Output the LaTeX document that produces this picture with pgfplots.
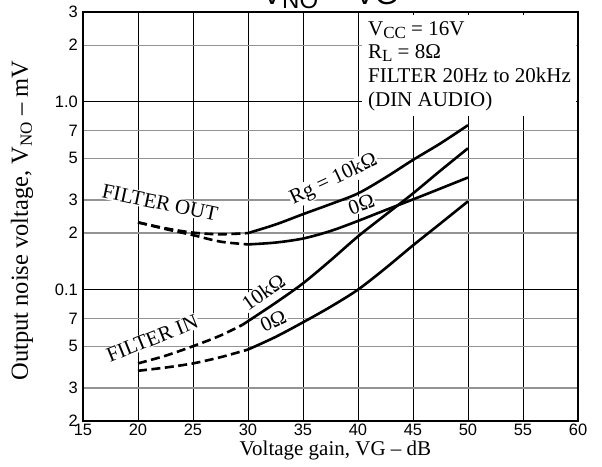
\documentclass[border=0pt]{standalone}
\usepackage{fontspec}
\setmainfont{Liberation Serif}
\newfontfamily\ticksf{Liberation Sans}
\usepackage{pgfplots}
\pgfplotsset{compat=1.18}
\usetikzlibrary{calc}

% subscripts as in the data sheet (big, lowered)
\newcommand{\sub}[1]{\raisebox{-0.35ex}{\fontsize{17}{17}\selectfont #1}}
\newcommand{\lab}{\fontsize{21}{24}\selectfont}

\begin{document}
\begin{tikzpicture}
\begin{axis}[
    scale only axis,
    width=495pt, height=409pt,
    xmin=15, xmax=60,
    ymode=log, ymin=0.02, ymax=3,
    xtick={15,20,...,60},
    xticklabels={15,20,25,30,35,40,45,50,55,60},
    ytick={0.02,0.03,0.05,0.07,0.2,0.3,0.5,0.7,2,3},
    yticklabels={2,3,5,7,2,3,5,7,2,3},
    extra y ticks={0.1,1},
    extra y tick labels={0.1,1.0},
    extra y tick style={y grid style={black, line width=1.2pt}},
    major tick length=0pt, minor tick length=0pt,
    xmajorgrids, ymajorgrids, yminorgrids=false,
    x grid style={black, line width=0.9pt},
    y grid style={gray!85, line width=1.2pt},
    axis line style={black, line width=2.3pt},
    tick label style={font=\ticksf\fontsize{16.5}{16.5}\selectfont},
    xticklabel style={anchor=north, inner sep=0pt, yshift=-3pt},
    yticklabel style={anchor=east, inner sep=0pt, xshift=-5pt},
    xlabel={Voltage gain, VG -- dB},
    ylabel={Output noise voltage, V\sub{NO} -- mV},
    every axis x label/.style={at={(rel axis cs:0.51,0)}, anchor=base, yshift=-34pt, font=\lab},
    every axis y label/.style={at={(rel axis cs:0,0.49)}, xshift=-61pt, rotate=90, anchor=center, font=\fontsize{24.5}{24.5}\selectfont},
    clip=false,
]
\coordinate (bl) at (rel axis cs:0,0);
\coordinate (tr) at (rel axis cs:1,1);

% condition box, top right
\fill[white] (axis cs:40.35,0.84) rectangle (axis cs:59.8,2.9);
\node[anchor=base west, font=\lab, inner sep=0pt] at (axis cs:40.9,2.26) {V\sub{CC} = 16V};
\node[anchor=base west, font=\lab, inner sep=0pt] at (axis cs:40.9,1.70) {R\sub{L} = 8Ω};
\node[anchor=base west, font=\lab, inner sep=0pt] at (axis cs:40.9,1.26) {FILTER 20Hz to 20kHz};
\node[anchor=base west, font=\lab, inner sep=0pt] at (axis cs:40.9,0.94) {(DIN AUDIO)};

% curve labels
\node[font=\lab, fill=white, inner sep=1pt, rotate=-12] at (axis cs:22.0,0.29) {FILTER OUT};
\node[font=\lab, fill=white, inner sep=1pt, rotate=25] at (axis cs:37.8,0.385) {Rg = 10kΩ};
\node[font=\lab, fill=white, inner sep=1pt, rotate=20] at (axis cs:40.3,0.285) {0Ω};
\node[font=\lab, fill=white, inner sep=1pt, rotate=35] at (axis cs:31.4,0.097) {10kΩ};
\node[font=\lab, fill=white, inner sep=1pt, rotate=25] at (axis cs:32.3,0.068) {0Ω};
\node[font=\lab, fill=white, inner sep=1pt, rotate=22] at (axis cs:21.3,0.055) {FILTER IN};

% filter out, Rg = 10k
\addplot[black, line width=2.6pt, smooth, dash pattern=on 9pt off 4.5pt] coordinates {
    (20,0.228) (22.5,0.212) (25,0.201) (27.5,0.197) (30,0.2)
};
\addplot[black, line width=2.6pt, smooth] coordinates {
    (30,0.2) (32.5,0.222) (35,0.252) (37.5,0.285) (40,0.325) (42.5,0.395) (45,0.49) (47.5,0.6) (50,0.75)
};
% filter out, 0 ohm
\addplot[black, line width=2.6pt, smooth, dash pattern=on 9pt off 4.5pt] coordinates {
    (20,0.228) (22.5,0.21) (25,0.195) (27.5,0.18) (30,0.174)
};
\addplot[black, line width=2.6pt, smooth] coordinates {
    (30,0.174) (32.5,0.178) (35,0.187) (37.5,0.205) (40,0.232) (42.5,0.265) (45,0.302) (47.5,0.345) (50,0.395)
};
% filter in, 10k
\addplot[black, line width=2.6pt, smooth, dash pattern=on 9pt off 4.5pt] coordinates {
    (20,0.0405) (22.5,0.0445) (25,0.05) (27.5,0.057) (29.5,0.065)
};
\addplot[black, line width=2.6pt, smooth] coordinates {
    (29.5,0.065) (32.5,0.085) (35,0.108) (37.5,0.143) (40,0.192) (42.5,0.25) (45,0.325) (47.5,0.43) (50,0.565)
};
% filter in, 0 ohm
\addplot[black, line width=2.6pt, smooth, dash pattern=on 9pt off 4.5pt] coordinates {
    (20,0.037) (22.5,0.0385) (25,0.0405) (27.5,0.0437) (30,0.048)
};
\addplot[black, line width=2.6pt, smooth] coordinates {
    (30,0.048) (32.5,0.056) (35,0.067) (37.5,0.081) (40,0.1) (42.5,0.13) (45,0.172) (47.5,0.225) (50,0.295)
};

% title, cut by the top edge as in the reference
\node[anchor=base west, inner sep=0pt, xshift=179pt, yshift=8pt, font=\ticksf\fontsize{30}{30}\selectfont] at (rel axis cs:0,1)
    {V\raisebox{-0.3ex}{\fontsize{24}{24}\selectfont NO} -- VG};
\end{axis}
\pgfresetboundingbox
\useasboundingbox ($(bl)+(-83pt,-45pt)$) rectangle ($(tr)+(24pt,12pt)$);
\end{tikzpicture}
\end{document}
